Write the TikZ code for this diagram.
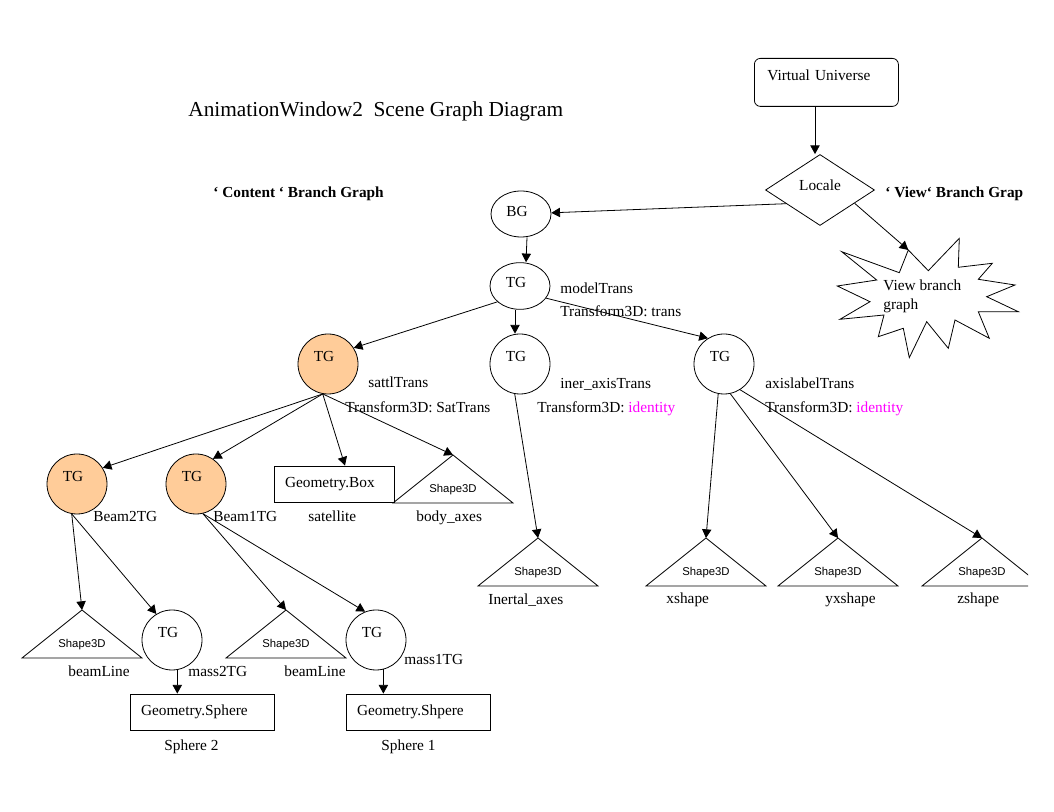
\documentclass[tikz,border=0pt]{standalone}
\usepackage{fontspec}
\setmainfont{Liberation Serif}
\newfontfamily\shapefont{Liberation Sans}
\usetikzlibrary{shapes.geometric, arrows.meta}
\definecolor{tgorange}{HTML}{FFCC99}
\definecolor{idmagenta}{HTML}{FF00FF}

\begin{document}
\begin{tikzpicture}[x=0.75pt, y=-0.75pt, line width=0.6pt, >={Triangle[length=6.5pt, width=7pt]}]
	\tikzstyle{txt} = [inner sep=0, font=\fontsize{11.5}{13.8}\selectfont]
	\tikzstyle{boldtxt} = [inner sep=0, font=\fontsize{11.5}{13.8}\selectfont\bfseries]
	\tikzstyle{shp} = [inner sep=0, anchor=base, font=\fontsize{8.5}{10}\shapefont]
	\tikzstyle{tg} = [circle, draw, minimum size=45pt, inner sep=0, label={[txt, xshift=-3pt, yshift=5.25pt]center:TG}]
	\tikzstyle{tgo} = [tg, fill=tgorange]
	\tikzstyle{geo} = [draw, txt, minimum height=27pt, inner xsep=8.25pt, align=left]

	\path[use as bounding box] (0,0) rectangle (1054,812);
	\clip (0,0) rectangle (1028,812);

	\node[txt, anchor=base west, font=\fontsize{16}{19}\selectfont] (title) at (188,117) {AnimationWindow2~ Scene Graph Diagram};
	\node[boldtxt, anchor=base west] (content) at (213,198) {‘ Content ‘ Branch Graph};
	\node[boldtxt, anchor=base west] (viewlbl) at (885,198) {‘ View‘ Branch Grap};

	\node[draw, rounded corners=4.5pt, txt, anchor=north west, inner xsep=9.75pt, text width=88.5pt, text height=16.5pt, text depth=19.5pt, align=left] (vu) at (754,58) {Virtual Universe};
	\node[diamond, draw, minimum width=81.75pt, minimum height=53.25pt, inner sep=0, label={[txt, yshift=3.75pt]center:Locale}] (loc) at (820,190) {};

	\draw (841.7,251.7) -- (899.3,272.7) -- (908.3,250) -- (928.3,270.7) -- (959.3,238.3) -- (958.3,267.3)
		-- (992.3,263.3) -- (978.3,279.3) -- (1015,285) -- (986.7,296.7) -- (1018.3,311.7) -- (978.3,311.7)
		-- (989.3,338.3) -- (955,320) -- (948.3,348.3) -- (926.7,321.7) -- (909.3,357.7) -- (903.3,328.3)
		-- (878.3,336.7) -- (884,315) -- (840,319.3) -- (870,301.7) -- (837.3,286) -- (876.7,280) -- cycle;
	\coordinate (vbtip) at (908.3,250);
	\node[txt, anchor=base west, align=left, font=\fontsize{11.5}{14.3}\selectfont] (vbtext) at (883,310) {View branch\\graph};

	\node[ellipse, draw, minimum width=45pt, minimum height=34.5pt, inner sep=0, label={[txt, xshift=-3pt, yshift=1.9pt]center:BG}] (bg) at (521,214) {};
	\node[ellipse, draw, minimum width=45pt, minimum height=35pt, inner sep=0, label={[txt, xshift=-3pt, yshift=2.25pt]center:TG}] (mt) at (520,286) {};

	\node[tgo] (st) at (328,364) {};
	\node[tg] (ia) at (520,364) {};
	\node[tg] (al) at (724,364) {};
	\node[tgo] (b2) at (77,484) {};
	\node[tgo] (b1) at (196,484) {};
	\node[tg] (m2) at (172,640) {};
	\node[tg] (m1) at (376,640) {};

	\node[geo, text width=73.5pt] (gbox) at (334,484) {Geometry.Box};
	\node[geo, text width=91.5pt] (gs2) at (202,712) {Geometry.Sphere};
	\node[geo, text width=91.5pt] (gs1) at (418,712) {Geometry.Shpere};

	\coordinate (tbody) at (453,455);
	\draw (tbody) -- ++(-60,48) -- ++(120,0) -- cycle;
	\node[shp] (sbody) at (453,493) {Shape3D};
	\coordinate (tline2) at (82,610);
	\draw (tline2) -- ++(-60,48) -- ++(120,0) -- cycle;
	\node[shp] (sline2) at (82,648) {Shape3D};
	\coordinate (tline1) at (286,610);
	\draw (tline1) -- ++(-60,48) -- ++(120,0) -- cycle;
	\node[shp] (sline1) at (286,648) {Shape3D};
	\coordinate (tinert) at (538,538);
	\draw (tinert) -- ++(-60,48) -- ++(120,0) -- cycle;
	\node[shp] (sinert) at (538,576) {Shape3D};
	\coordinate (tx) at (706,538);
	\draw (tx) -- ++(-60,48) -- ++(120,0) -- cycle;
	\node[shp] (sx) at (706,576) {Shape3D};
	\coordinate (tyx) at (838,538);
	\draw (tyx) -- ++(-60,48) -- ++(120,0) -- cycle;
	\node[shp] (syx) at (838,576) {Shape3D};
	\coordinate (tz) at (982,538);
	\draw (tz) -- ++(-60,48) -- ++(120,0) -- cycle;
	\node[shp] (sz) at (982,576) {Shape3D};

	\node[txt, anchor=base west] (lmodel) at (560,294) {modelTrans};
	\node[txt, anchor=base west] (lmodeltf) at (560,317) {Transform3D: trans};
	\node[txt, anchor=base west] (lsattl) at (368,388) {sattlTrans};
	\node[txt, anchor=base west] (lsattltf) at (345,413) {Transform3D: SatTrans};
	\node[txt, anchor=base west] (liner) at (560,389) {iner\_axisTrans};
	\node[txt, anchor=base west] (linertf) at (537,413) {Transform3D: \textcolor{idmagenta}{identity}};
	\node[txt, anchor=base west] (laxis) at (765,389) {axislabelTrans};
	\node[txt, anchor=base west] (laxistf) at (765,413) {Transform3D: \textcolor{idmagenta}{identity}};
	\node[txt, anchor=base west] (lbeam2) at (93,522) {Beam2TG};
	\node[txt, anchor=base west] (lbeam1) at (213,522) {Beam1TG};
	\node[txt, anchor=base west] (lsat) at (308,522) {satellite};
	\node[txt, anchor=base west] (lbody) at (416,522) {body\_axes};
	\node[txt, anchor=base west] (lline2) at (68,677) {beamLine};
	\node[txt, anchor=base west] (lmass2) at (188,677) {mass2TG};
	\node[txt, anchor=base west] (lline1) at (284,677) {beamLine};
	\node[txt, anchor=base west] (lmass1) at (404,665) {mass1TG};
	\node[txt, anchor=base west] (lsph2) at (164,750) {Sphere 2};
	\node[txt, anchor=base west] (lsph1) at (381,750) {Sphere 1};
	\node[txt, anchor=base west] (linert) at (488,605) {Inertal\_axes};
	\node[txt, anchor=base west] (lx) at (666,604) {xshape};
	\node[txt, anchor=base west] (lyx) at (825,604) {yxshape};
	\node[txt, anchor=base west] (lz) at (957,604) {zshape};

	\draw[->] (vu.south -| 815,0) -- (loc.north -| 815,0);
	\draw[->] (loc.202) -- (bg);
	\draw[->] (loc.-21) -- (vbtip);
	\draw[->] ([xshift=4.5pt]bg.south) -- ([xshift=4.5pt]mt.north);

	\draw[->] (mt.215) -- (st.32);
	\draw[->] ([xshift=-3.75pt]mt.south) -- ([xshift=-3.75pt]ia.north);
	\draw[->] (mt.-25) -- (al.122);

	\draw[->] (st.-100) -- (b2.32);
	\draw[->] (st.-100) -- (b1.56);
	\draw[->] (st.-100) -- ([xshift=8.25pt]gbox.north);
	\draw[->] (st.-100) -- (tbody);

	\draw[->] (b2.-100) -- (tline2);
	\draw[->] (b2.-100) -- (m2.121);
	\draw[->] (b1.-77) -- (tline1);
	\draw[->] (b1.-77) -- (m1.111);
	\draw[->] (m2.-80) -- (m2.-80 |- gs2.north);
	\draw[->] (m1.-76) -- (m1.-76 |- gs1.north);

	\draw[->] (ia.-100) -- (tinert);
	\draw[->] (al.-101) -- (tx);
	\draw[->] (al.-78) -- (tyx);
	\draw[->] (al.-58) -- (tz);
\end{tikzpicture}
\end{document}
